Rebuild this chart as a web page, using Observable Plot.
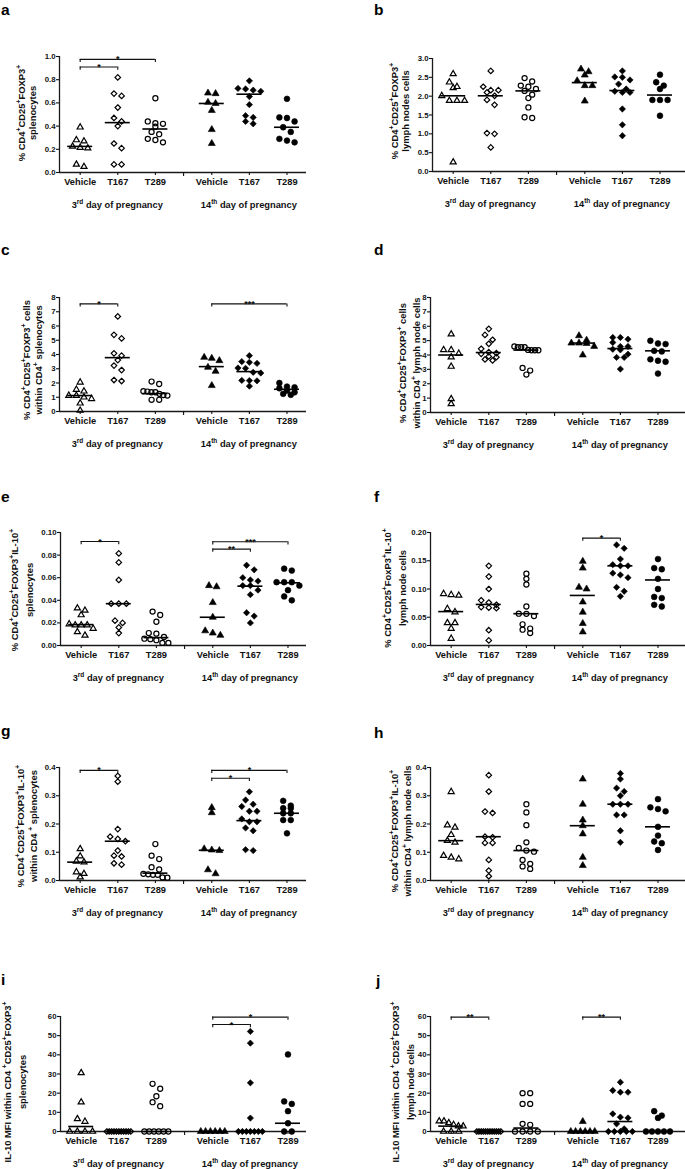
<!DOCTYPE html>
<html><head><meta charset="utf-8">
<script src="https://cdn.jsdelivr.net/npm/d3@7"></script>
<script src="https://cdn.jsdelivr.net/npm/@observablehq/plot@0.6"></script>
<style>
body{margin:0;background:#fff;}
#root{position:relative;width:685px;height:1169px;overflow:hidden;font-family:'Liberation Sans',Arial,Helvetica,sans-serif;}
#root svg{position:absolute;}
</style>
</head><body><div id="root"></div>
<script>
// ---------- data ----------
const categories = ["Vehicle","T167","T289","Vehicle","T167","T289"];
const dayLabels = ["3^{rd} day of pregnancy", "14^{th} day of pregnancy"];

// series order: Vehicle 3rd, T167 3rd, T289 3rd, Vehicle 14th, T167 14th, T289 14th
const a_values = [
  [0.39,0.28,0.27,0.225,0.215,0.21,0.07,0.05],
  [0.82,0.68,0.66,0.56,0.47,0.44,0.40,0.25,0.21,0.07,0.07],
  [0.64,0.44,0.425,0.42,0.395,0.35,0.33,0.29,0.28,0.26],
  [0.685,0.68,0.605,0.595,0.535,0.37,0.25],
  [0.79,0.725,0.72,0.71,0.70,0.655,0.585,0.49,0.475,0.44,0.42],
  [0.635,0.475,0.47,0.44,0.39,0.35,0.29,0.275,0.26]];
const a_medians = [0.225,0.43,0.375,0.595,0.675,0.39];
const a_brackets = [[0,1,0.91,"*"],[0,2,0.975,"*"]];
const a_ticks = [0,0.2,0.4,0.6,0.8,1.0];
const a_title = ["% CD4^{+}CD25^{+}FOXP3^{+}","splenocytes"];

const b_values = [
  [2.59,2.37,2.25,2.22,2.01,1.88,1.88,1.88,0.25],
  [2.67,2.25,2.16,2.16,2.10,2.01,1.90,1.77,1.02,1.00,0.64],
  [2.48,2.39,2.28,2.25,2.19,2.14,2.04,1.95,1.70,1.44,1.42],
  [2.72,2.65,2.56,2.41,2.28,2.28,1.87],
  [2.67,2.51,2.50,2.43,2.32,2.19,2.13,2.10,2.10,1.66,1.24,0.95],
  [2.57,2.37,2.28,2.19,1.90,1.90,1.90,1.48]];
const b_medians = [2.01,2.01,2.14,2.36,2.15,2.03];
const b_brackets = [];
const b_ticks = [0,0.5,1.0,1.5,2.0,2.5,3.0];
const b_title = ["% CD4^{+}CD25^{+}FOXP3^{+}","lymph nodes cells"];

const c_values = [
  [2.05,1.54,1.42,1.12,1.12,1.0,0.89,0.58,0.07],
  [6.67,5.38,5.13,4.08,3.92,3.61,3.22,2.91,2.21,2.14],
  [2.10,1.93,1.42,1.40,1.35,1.35,1.24,1.15,1.12,0.82,0.82],
  [3.80,3.73,3.57,3.10,2.82,1.82],
  [3.92,3.50,3.45,3.38,3.05,3.03,2.75,2.70,2.18,2.17,2.15,1.78],
  [2.00,1.75,1.70,1.63,1.47,1.35,1.24,1.17]];
const c_medians = [1.12,3.78,1.26,3.15,2.80,1.56];
const c_brackets = [[0,1,7.55,"*"],[3,5,7.55,"***"]];
const c_ticks = [0,1,2,3,4,5,6,7,8];
const c_title = ["% CD4^{+}CD25^{+}FOXP3^{+} cells","within CD4^{+} splenocytes"];

const d_values = [
  [5.45,4.36,4.36,4.1,3.85,3.2,0.95,0.6],
  [5.82,5.4,5.06,4.78,4.43,4.2,4.13,4.08,3.9,3.85,3.69,3.62],
  [4.6,4.55,4.55,4.55,4.35,4.33,4.33,4.33,3.1,2.92,2.64],
  [5.34,5.03,4.83,4.83,4.80,4.60,4.00],
  [5.22,5.22,5.10,4.87,4.59,4.59,4.40,4.36,4.06,3.83,3.83,3.02],
  [4.99,4.80,4.76,4.29,4.25,3.70,3.60,3.53,2.71]];
const d_medians = [4.0,4.17,4.34,4.83,4.45,4.29];
const d_brackets = [];
const d_ticks = [0,1,2,3,4,5,6,7,8];
const d_title = ["% CD4^{+}CD25^{+}FOXP3^{+} cells","within CD4^{+} lymph node cells"];

const e_values = [
  [0.033,0.031,0.027,0.019,0.018,0.018,0.018,0.015,0.012,0.009],
  [0.0815,0.0735,0.058,0.037,0.037,0.037,0.022,0.020,0.016,0.011],
  [0.030,0.027,0.021,0.011,0.0105,0.0076,0.006,0.0056,0.0047,0.0023,0.0023],
  [0.053,0.052,0.038,0.025,0.013,0.011,0.009],
  [0.071,0.067,0.060,0.058,0.057,0.053,0.053,0.049,0.045,0.029,0.026,0.020],
  [0.068,0.0663,0.056,0.056,0.056,0.053,0.049,0.0434,0.040]];
const e_medians = [0.0185,0.037,0.007,0.025,0.0525,0.0555];
const e_brackets = [[0,1,0.092,"*"],[3,4,0.0853,"**"],[3,5,0.0918,"***"]];
const e_ticks = [0,0.02,0.04,0.06,0.08,0.10];
const e_title = ["% CD4^{+}CD25^{+}FOXP3^{+}IL-10^{+}","splenocytes"];

const f_values = [
  [0.0915,0.0897,0.0886,0.065,0.0592,0.040,0.040,0.030,0.0123],
  [0.141,0.122,0.100,0.080,0.076,0.072,0.068,0.067,0.066,0.027,0.009],
  [0.127,0.118,0.108,0.069,0.0563,0.056,0.052,0.0375,0.030,0.028,0.022],
  [0.149,0.137,0.103,0.100,0.077,0.059,0.039,0.024],
  [0.178,0.172,0.153,0.143,0.141,0.141,0.128,0.125,0.120,0.103,0.096,0.087],
  [0.153,0.137,0.135,0.118,0.100,0.086,0.084,0.072,0.069]];
const f_medians = [0.06,0.0727,0.0563,0.0886,0.141,0.116];
const f_brackets = [[3,4,0.19,"*"]];
const f_ticks = [0,0.05,0.10,0.15,0.20];
const f_title = ["% CD4^{+}CD25^{+}FoxP3^{+}IL-10^{+}","lymph node cells"];

const g_values = [
  [0.112,0.086,0.068,0.065,0.030,0.024,0.012],
  [0.37,0.35,0.182,0.155,0.147,0.139,0.106,0.088,0.085,0.061,0.056],
  [0.129,0.088,0.076,0.047,0.039,0.0235,0.022,0.020,0.020,0.010,0.011],
  [0.258,0.240,0.112,0.108,0.106,0.038,0.024],
  [0.314,0.285,0.270,0.262,0.245,0.245,0.218,0.208,0.208,0.186,0.176,0.109,0.106],
  [0.282,0.265,0.256,0.256,0.238,0.238,0.214,0.214,0.167]];
const g_medians = [0.065,0.139,0.026,0.107,0.212,0.238];
const g_brackets = [[0,1,0.39,"*"],[3,4,0.362,"*"],[3,5,0.39,"*"]];
const g_ticks = [0,0.1,0.2,0.3,0.4];
const g_title = ["% CD4^{+}CD25^{+}FOXP3^{+}IL-10^{+}","within CD4 ^{+} splenocytes"];

const h_values = [
  [0.314,0.196,0.188,0.162,0.141,0.135,0.088,0.082,0.076],
  [0.373,0.315,0.244,0.239,0.155,0.153,0.133,0.133,0.073,0.035,0.015],
  [0.270,0.241,0.196,0.135,0.115,0.106,0.102,0.073,0.059,0.050,0.041],
  [0.359,0.270,0.214,0.194,0.165,0.082,0.053],
  [0.379,0.359,0.327,0.315,0.300,0.270,0.270,0.270,0.232,0.232,0.176,0.135],
  [0.288,0.259,0.253,0.245,0.190,0.159,0.138,0.132,0.108]];
const h_medians = [0.141,0.155,0.106,0.194,0.27,0.19];
const h_brackets = [];
const h_ticks = [0,0.1,0.2,0.3,0.4];
const h_title = ["% CD4^{+}CD25^{+}FOXP3^{+}IL-10^{+}","within CD4^{+} lymph node cells"];

const i_values = [
  [30.6,15.3,6.6,5.2,0,0,0,0],
  [0,0,0,0,0,0,0,0,0,0,0],
  [24.9,22.3,18.4,15.3,13.2,0,0,0,0,0,0],
  [0,0,0,0,0,0],
  [52.2,46.1,25.4,7.0,0,0,0,0,0,0,0],
  [40.2,15.7,14.4,10.6,4.3,0,0]];
const i_medians = [2.6,0,0,0,0,4.3];
const i_brackets = [[3,4,55.8,"*"],[3,5,59.7,"*"]];
const i_ticks = [0,10,20,30,40,50,60];
const i_title = ["IL-10 MFI within CD4 ^{+}CD25^{+}FOXP3^{+}","splenocytes"];

const j_values = [
  [5.4,5.4,4.5,3.5,2.8,2.8,0,0,0],
  [0,0,0,0,0,0,0,0,0,0,0,0],
  [20,20,14.4,14.4,4,3.5,0,0,0,0],
  [5.2,0,0,0,0,0,0],
  [25.7,21.4,20.5,20.5,9.2,7.5,7.1,4.0,1.4,0,0,0,0,0],
  [10.6,8.3,7.1,0,0,0,0,0]];
const j_medians = [2.8,0,1.8,0,5.2,0];
const j_brackets = [[0,1,59.7,"**"],[3,4,59.7,"**"]];
const j_ticks = [0,10,20,30,40,50,60];
const j_title = ["IL-10 MFI within CD4 ^{+}CD25^{+}FOXP3^{+}","lymph node cells"];

// ---------- layout ----------
const FONT = "'Liberation Sans', Arial, Helvetica, sans-serif";
const positions = [1,2,3,4.5,5.5,6.5];
const sepPos = 3.75, x0 = 0.45, PX_PER_X = 37.6;
const symbols = ["triangle","diamond2","circle","triangle","diamond2","circle"];
const radius = {triangle:2.25, diamond2:2.5, circle:2.55};

const panels = [
 {id:"a",vals:a_values,meds:a_medians,br:a_brackets,ticks:a_ticks,fmt:".1f",title:a_title,col:0,  axisX:59, yTop:56,  yBot:172, tx:[21,32],  ty:113, lx:1,  ly:14.5},
 {id:"b",vals:b_values,meds:b_medians,br:b_brackets,ticks:b_ticks,fmt:".1f",title:b_title,col:342,axisX:432,yTop:58,  yBot:171, tx:[394,405],ty:111, lx:374,ly:14.5},
 {id:"c",vals:c_values,meds:c_medians,br:c_brackets,ticks:c_ticks,fmt:"d",  title:c_title,col:0,  axisX:59, yTop:297, yBot:411, tx:[26,38],  ty:360, lx:1,  ly:255},
 {id:"d",vals:d_values,meds:d_medians,br:d_brackets,ticks:d_ticks,fmt:"d",  title:d_title,col:342,axisX:430,yTop:297, yBot:412, tx:[402,416],ty:363, lx:374,ly:255},
 {id:"e",vals:e_values,meds:e_medians,br:e_brackets,ticks:e_ticks,fmt:".2f",title:e_title,col:0,  axisX:60, yTop:532, yBot:645, tx:[14,29],  ty:590, lx:1,  ly:502},
 {id:"f",vals:f_values,meds:f_medians,br:f_brackets,ticks:f_ticks,fmt:".2f",title:f_title,col:342,axisX:430,yTop:532, yBot:645, tx:[387,402],ty:588, lx:374,ly:502},
 {id:"g",vals:g_values,meds:g_medians,br:g_brackets,ticks:g_ticks,fmt:".1f",title:g_title,col:0,  axisX:59, yTop:767, yBot:880, tx:[20,33],  ty:826, lx:1,  ly:736},
 {id:"h",vals:h_values,meds:h_medians,br:h_brackets,ticks:h_ticks,fmt:".1f",title:h_title,col:342,axisX:430,yTop:767, yBot:880, tx:[394,407],ty:831, lx:374,ly:738},
 {id:"i",vals:i_values,meds:i_medians,br:i_brackets,ticks:i_ticks,fmt:"d",  title:i_title,col:0,  axisX:60, yTop:1016,yBot:1131,tx:[7,22],   ty:1082,lx:1,  ly:985},
 {id:"j",vals:j_values,meds:j_medians,br:j_brackets,ticks:j_ticks,fmt:"d",  title:j_title,col:342,axisX:430,yTop:1016,yBot:1131,tx:[395,410],ty:1082,lx:376,ly:986}
];

// Prism-like horizontal spreading of points with similar values
function spread(values, pos, pxPerY) {
  const items = values.map(v => ({v})).sort((p, q) => q.v - p.v);
  const rows = []; let cur = null;
  for (const p of items) {
    const py = p.v * pxPerY;
    if (cur && cur.start - py < 5) cur.items.push(p);
    else { cur = {start: py, items: [p]}; rows.push(cur); }
  }
  const out = [];
  for (const row of rows) {
    const n = row.items.length;
    const step = n > 1 ? Math.min(7.6, 24 / (n - 1)) : 0;
    row.items.forEach((p, k) => out.push({x: pos + (k - (n - 1) / 2) * step / PX_PER_X, y: p.v}));
  }
  return out;
}

function rich(sel, str, supSize, shift) {
  const parts = str.split(/(\^\{[^}]*\})/);
  let up = false;
  for (const p of parts) {
    if (!p) continue;
    const m = p.match(/^\^\{(.*)\}$/);
    if (m) { sel.append("tspan").attr("dy", -shift).attr("font-size", supSize).text(m[1]); up = true; }
    else { const t = sel.append("tspan").text(p); if (up) { t.attr("dy", shift); up = false; } }
  }
}

const root = document.getElementById("root");
const mt = 24, mb = 46;

for (const cfg of panels) {
  const colW = cfg.col === 0 ? 342 : 343;
  const axisEnd = cfg.col === 0 ? 306 : 685;
  const innerH = cfg.yBot - cfg.yTop;
  const innerW = axisEnd - cfg.axisX;
  const yMax = cfg.ticks[cfg.ticks.length - 1];
  const xEnd = x0 + innerW / PX_PER_X;
  const pxPerY = innerH / yMax;
  const hw = 12.5 / PX_PER_X;
  const drop = 3.2 / pxPerY;

  const marks = [];
  marks.push(Plot.ruleY([0], {stroke: "#1a1a1a", strokeWidth: 1.3}));
  marks.push(Plot.ruleX([x0], {y1: 0, y2: yMax, stroke: "#1a1a1a", strokeWidth: 1.3}));
  marks.push(Plot.axisY({ticks: cfg.ticks, tickFormat: d3.format(cfg.fmt), tickSize: 3, tickPadding: 1, fontSize: 7.8, fontWeight: "bold", fontFamily: FONT, label: null, strokeWidth: 1.1, fill: "#111"}));
  marks.push(Plot.axisX({ticks: positions, tickFormat: d => categories[positions.indexOf(d)], tickSize: 3, tickPadding: 2.4, fontSize: 9.3, fontWeight: "bold", fontFamily: FONT, label: null, strokeWidth: 1.1, fill: "#111"}));
  marks.push(Plot.axisX({ticks: [sepPos], tickFormat: () => "", tickSize: 4, label: null, strokeWidth: 1.1}));

  cfg.vals.forEach((vals, k) => {
    const pts = spread(vals, positions[k], pxPerY);
    const filled = k >= 3;
    marks.push(Plot.dot(pts, {x: "x", y: "y", symbol: symbols[k], r: radius[symbols[k]] + (filled ? 0.35 : 0),
      stroke: "#000", strokeWidth: filled ? 0.6 : 1.2, fill: filled ? "#000" : "none"}));
  });

  const medRows = cfg.meds.map((m, k) => ({x1: positions[k] - hw, x2: positions[k] + hw, y: m}));
  marks.push(Plot.ruleY(medRows, {x1: "x1", x2: "x2", y: "y", stroke: "#000", strokeWidth: 1.6}));

  const brRows = cfg.br.map(([i, j, y, label]) => ({x1: positions[i], x2: positions[j], xm: (positions[i] + positions[j]) / 2, y, label}));
  const brEnds = brRows.flatMap(r => [{x: r.x1, y: r.y, y2: r.y - drop}, {x: r.x2, y: r.y, y2: r.y - drop}]);
  marks.push(Plot.ruleY(brRows, {x1: "x1", x2: "x2", y: "y", stroke: "#111", strokeWidth: 1.1}));
  marks.push(Plot.ruleX(brEnds, {x: "x", y1: "y", y2: "y2", stroke: "#111", strokeWidth: 1.1}));
  marks.push(Plot.text(brRows, {x: "xm", y: "y", text: "label", lineAnchor: "bottom", dy: 3, fontSize: 9, fontFamily: FONT, fill: "#111"}));

  const svgTop = cfg.yTop - mt;
  const plot = Plot.plot({
    width: colW, height: innerH + mt + mb,
    marginLeft: cfg.axisX - cfg.col, marginRight: colW - (axisEnd - cfg.col), marginTop: mt, marginBottom: mb,
    x: {domain: [x0, xEnd], axis: null, label: null},
    y: {domain: [0, yMax], axis: null, label: null},
    style: {fontFamily: FONT, fontWeight: "bold", background: "transparent", color: "#111", overflow: "visible"},
    marks
  });
  plot.style.left = cfg.col + "px";
  plot.style.top = svgTop + "px";
  root.appendChild(plot);

  const svg = d3.select(plot);
  const sx = plot.scale("x");
  const gy = mt + innerH + 35.5;
  [2, 5.5].forEach((p, k) => {
    const t = svg.append("text").attr("x", sx.apply(p)).attr("y", gy).attr("text-anchor", "middle")
      .attr("font-size", 9.3).attr("font-weight", "bold").attr("font-family", FONT).attr("fill", "#111");
    rich(t, dayLabels[k], 6.5, 3.6);
  });
  cfg.title.forEach((line, k) => {
    const bx = cfg.tx[k] - cfg.col + 3.5;
    const by = cfg.ty - svgTop;
    const t = svg.append("text").attr("transform", `translate(${bx},${by}) rotate(-90)`).attr("text-anchor", "middle")
      .attr("font-size", 9.4).attr("font-weight", "bold").attr("font-family", FONT).attr("fill", "#111");
    rich(t, line, 6.8, 3.3);
  });
}

// panel letters
const letters = d3.select(root).append("svg").attr("width", 685).attr("height", 1169).style("left", "0px").style("top", "0px").style("pointer-events", "none");
for (const cfg of panels) {
  letters.append("text").attr("x", cfg.lx).attr("y", cfg.ly).attr("font-size", 15.5).attr("font-weight", "bold")
    .attr("font-family", FONT).attr("fill", "#000").text(cfg.id);
}
</script>
</body></html>
